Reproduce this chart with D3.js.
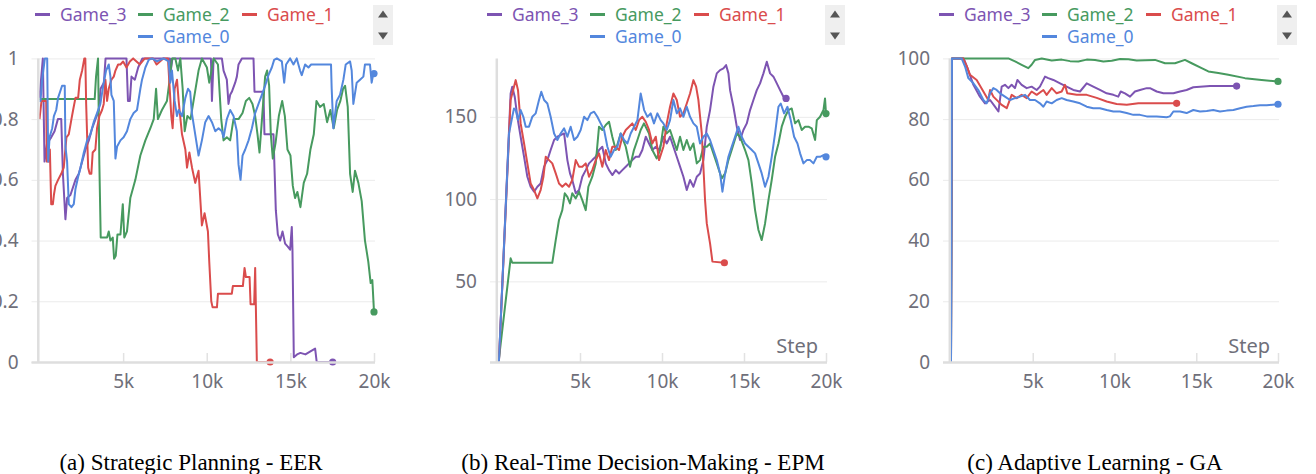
<!DOCTYPE html>
<html>
<head>
<meta charset="utf-8">
<script src="https://cdn.jsdelivr.net/npm/d3@7"></script>
<style>
  body { margin: 0; background: #fff; }
  svg { display: block; }
</style>
</head>
<body>
<svg id="chart" width="1316" height="474"></svg>
<script>
// ---- data: [step, value] ----
const games = ["Game_3", "Game_2", "Game_1", "Game_0"];
const stepTicks = [5000, 10000, 15000, 20000];

const eerTicks = [0, 0.2, 0.4, 0.6, 0.8, 1];
const epmTicks = [50, 100, 150];
const gaTicks = [0, 20, 40, 60, 80, 100];

const eerGame3 = [[0,0.87],[200,1.0],[300,0.66],[450,0.72],[700,0.74],[900,0.76],[1100,0.80],[1300,0.80],[1400,0.62],[1550,0.47],[1650,0.54],[1850,0.55],[2150,0.60],[2350,0.62],[2550,0.66],[2750,0.70],[2950,0.73],[3150,0.77],[3350,0.80],[3550,0.83],[3650,0.90],[3850,0.92],[3950,1.0],[5200,1.0],[5290,0.86],[5400,0.86],[5500,0.94],[5700,0.93],[5900,0.97],[6150,1.0],[7800,1.0],[7850,0.96],[7950,1.0],[10250,1.0],[10310,0.86],[10410,1.0],[10905,1.0],[11005,0.96],[11200,0.93],[11300,0.85],[11400,0.88],[11500,0.89],[11700,0.92],[11800,0.94],[11900,0.98],[12100,1.0],[12795,1.0],[12855,0.89],[13390,0.89],[13450,0.75],[13990,0.75],[14050,0.64],[14130,0.50],[14250,0.42],[14390,0.40],[14530,0.43],[14685,0.39],[14845,0.38],[14985,0.37],[15085,0.445],[15125,0.37],[15205,0.016],[15400,0.025],[15600,0.03],[15900,0.025],[16200,0.035],[16480,0.044],[16575,0],[17530,0]];
const eerGame2 = [[0,0.866],[3300,0.866],[3380,0.94],[3500,1.0],[3580,0.65],[3660,0.41],[4040,0.41],[4140,0.43],[4240,0.40],[4380,0.41],[4460,0.34],[4560,0.35],[4660,0.42],[4840,0.42],[4980,0.52],[5070,0.41],[5230,0.43],[5430,0.54],[5730,0.60],[6030,0.68],[6330,0.73],[6630,0.77],[6830,0.80],[6970,0.90],[7080,0.80],[7320,0.83],[7620,0.86],[7760,0.92],[7920,1.0],[8120,1.0],[8280,0.96],[8420,1.0],[8560,0.90],[8680,0.76],[8840,0.81],[9030,0.80],[9270,0.88],[9510,0.96],[9710,1.0],[10010,0.97],[10150,0.92],[10410,1.0],[10670,0.98],[10865,0.80],[11005,0.73],[11200,0.74],[11400,0.73],[11600,0.80],[11900,0.80],[12140,0.82],[12340,0.86],[12540,0.87],[12735,0.85],[12895,0.81],[13035,0.75],[13155,0.69],[13315,0.81],[13490,0.94],[13610,0.96],[13730,0.91],[13830,0.75],[13950,0.67],[14110,0.72],[14310,0.81],[14510,0.86],[14670,0.81],[14825,0.70],[15005,0.68],[15145,0.58],[15280,0.54],[15420,0.56],[15600,0.51],[15800,0.59],[16000,0.62],[16200,0.70],[16400,0.75],[16560,0.86],[16775,0.84],[16995,0.85],[17195,0.79],[17390,0.83],[17590,0.77],[17790,0.83],[17990,0.86],[18150,0.90],[18270,0.91],[18430,0.84],[18570,0.62],[18725,0.56],[18865,0.63],[19065,0.59],[19265,0.53],[19460,0.40],[19660,0.33],[19800,0.26],[19900,0.27],[20000,0.165]];
const eerGame1 = [[0,0.80],[120,0.86],[400,0.86],[440,0.66],[560,0.66],[620,0.70],[700,0.52],[800,0.52],[860,0.55],[950,0.58],[1110,0.60],[1300,0.62],[1450,0.64],[1610,0.74],[1750,0.75],[1910,0.80],[2010,0.83],[2150,0.87],[2310,0.87],[2410,0.93],[2550,0.96],[2680,1.0],[2740,1.0],[2790,0.85],[2850,0.74],[2910,0.64],[3000,0.62],[3100,0.62],[3180,0.69],[3340,0.70],[3440,0.77],[3580,0.81],[3740,0.83],[3840,0.85],[3940,0.93],[4040,0.86],[4140,0.90],[4300,0.93],[4440,0.94],[4540,0.96],[4700,0.98],[4840,0.98],[5000,0.99],[5200,0.97],[5400,0.99],[5600,1.0],[6000,0.98],[6300,1.0],[6800,1.0],[7000,0.98],[7400,1.0],[7680,1.0],[7880,0.81],[7960,0.77],[8080,0.90],[8220,0.93],[8320,0.86],[8520,0.75],[8720,0.70],[8820,0.64],[8960,0.69],[9120,0.64],[9310,0.59],[9510,0.63],[9610,0.54],[9710,0.45],[9870,0.49],[10070,0.43],[10150,0.33],[10270,0.20],[10350,0.18],[10610,0.18],[10670,0.225],[11500,0.225],[11560,0.25],[12160,0.25],[12260,0.31],[12340,0.28],[12560,0.28],[12620,0.19],[12835,0.19],[12895,0.31],[12995,0],[13790,0]];
const eerGame0 = [[0,0.86],[60,0.86],[160,0.93],[320,1.0],[460,1.0],[520,0.66],[600,0.74],[760,0.77],[860,0.81],[1000,0.83],[1110,0.87],[1350,0.91],[1510,0.91],[1550,0.71],[1650,0.66],[1750,0.52],[1910,0.51],[2050,0.52],[2150,0.57],[2310,0.61],[2450,0.64],[2650,0.69],[2850,0.73],[3040,0.75],[3240,0.79],[3440,0.82],[3640,0.85],[3840,0.92],[3980,0.96],[4140,0.98],[4240,0.94],[4300,0.88],[4440,0.86],[4540,0.67],[4640,0.71],[4840,0.73],[5030,0.74],[5230,0.76],[5430,0.80],[5630,0.82],[5830,0.83],[6030,0.90],[6130,0.93],[6330,0.97],[6530,0.995],[6730,1.0],[7020,0.99],[7420,1.0],[7720,0.99],[7820,0.92],[7920,0.96],[8080,0.86],[8220,0.81],[8320,0.83],[8520,0.81],[8720,0.87],[8880,0.90],[9010,0.89],[9110,0.82],[9310,0.75],[9510,0.68],[9710,0.73],[9910,0.79],[10110,0.81],[10310,0.79],[10510,0.76],[10705,0.77],[10905,0.76],[11005,0.74],[11200,0.80],[11400,0.83],[11600,0.81],[11800,0.76],[11900,0.65],[12020,0.60],[12140,0.68],[12300,0.70],[12500,0.73],[12700,0.77],[12895,0.82],[13095,0.85],[13295,0.88],[13490,0.91],[13690,0.945],[13890,0.97],[14030,0.995],[14190,1.0],[14490,0.99],[14630,0.92],[14745,0.98],[14985,1.0],[15185,0.98],[15380,1.0],[15580,0.96],[15680,0.945],[15880,0.98],[16080,0.97],[16240,0.98],[16480,0.98],[17430,0.98],[17470,0.90],[17570,0.77],[17770,0.86],[17970,0.88],[18170,0.93],[18310,0.98],[18570,0.99],[18665,0.96],[18765,0.85],[18965,0.92],[19165,0.93],[19365,0.94],[19460,0.98],[19760,0.98],[19860,0.92],[19960,0.95],[20000,0.95]];

const epmGame3 = [[0,1],[60,2.2],[770,164.2],[870,168.3],[1020,162.2],[1180,150],[1380,137.9],[1590,125.7],[1790,113.6],[1990,107.5],[2200,104.5],[2400,107.5],[2600,109.5],[2810,119.7],[3010,123.7],[3210,129.8],[3420,135.9],[3620,137.9],[3820,138.9],[4030,139.9],[4230,123.7],[4390,115.6],[4530,111.6],[4740,103.5],[4940,105.5],[5140,113.6],[5350,117.6],[5550,121.7],[5750,123.7],[5960,125.7],[6160,129.8],[6360,131.8],[6570,121.7],[6770,117.6],[6970,114.6],[7180,117.6],[7380,115.6],[7580,117.6],[7790,119.7],[7990,121.7],[8190,123.7],[8400,125.7],[8600,125.7],[8800,129.8],[9010,137.9],[9210,133.8],[9410,129.8],[9620,131.8],[9820,129.8],[10085,137.9],[10290,133.8],[10490,137.9],[10695,131.8],[10900,125.7],[11100,119.7],[11305,113.6],[11510,105.5],[11710,111.6],[11915,107.5],[12120,113.6],[12320,115.6],[12525,123.7],[12730,144],[12930,154.1],[13135,168.3],[13340,176.4],[13540,178.4],[13745,179.4],[13910,181.4],[14050,176.4],[14150,166.2],[14355,156.1],[14560,144],[14760,135.9],[14965,142],[15170,146],[15370,154.1],[15575,160.2],[15780,166.2],[15980,170.3],[16185,176.4],[16390,183.5],[16590,176.4],[16795,174.4],[17000,170.3],[17200,166.2],[17405,162.2],[17565,161.2]];
const epmGame2 = [[0,1],[60,3.2],[770,64],[870,61.3],[3310,61.3],[3520,75.1],[3720,87.3],[3920,93.3],[4070,103.5],[4230,101.4],[4390,97.4],[4530,103.5],[4740,100.4],[4940,104.5],[5140,99.4],[5350,93.3],[5510,107.5],[5750,113.6],[5960,121.7],[6160,144],[6360,142],[6570,145],[6770,147],[6970,137.9],[7180,129.8],[7480,139.9],[7790,131.8],[8050,119.7],[8290,129.8],[8500,135.9],[8700,142],[8900,146],[9210,139.9],[9410,129.8],[9680,124.7],[9880,129.8],[10085,144],[10290,139.9],[10490,142],[10695,135.9],[10900,129.8],[11100,137.9],[11305,129.8],[11510,135.9],[11710,129.8],[11915,133.8],[12120,121.7],[12320,123.7],[12525,131.8],[12730,131.8],[12930,133.8],[13135,127.8],[13340,121.7],[13540,115.6],[13645,112.6],[13850,115.6],[14050,123.7],[14250,129.8],[14560,139.9],[14760,137.9],[15065,129.8],[15270,123.7],[15475,109.5],[15675,93.3],[15880,81.2],[16080,75.1],[16285,85.2],[16490,99.4],[16690,111.6],[16895,125.7],[17100,133.8],[17300,144],[17505,150],[17710,154.1],[17910,155.1],[18115,146],[18320,148],[18520,142],[18725,144],[18930,144],[19130,143],[19335,135.9],[19440,148],[19640,150],[19845,154.1],[19940,161.2],[20000,152]];
const epmGame1 = [[0,1],[60,2.2],[770,160.2],[975,168.3],[1080,172.3],[1220,166.2],[1380,146],[1590,133.8],[1790,121.7],[1990,109.5],[2200,105.5],[2400,100.4],[2600,105.5],[2770,113.6],[2910,125.7],[3110,123.7],[3310,121.7],[3520,115.6],[3720,109.5],[3920,107.5],[4130,109.5],[4330,107.5],[4530,111.6],[4740,123.7],[4940,119.7],[5140,119.7],[5350,121.7],[5550,113.6],[5750,117.6],[5960,123.7],[6160,127.8],[6360,119.7],[6570,129.8],[6770,123.7],[6970,131.8],[7180,131.8],[7380,129.8],[7580,137.9],[7790,142],[7990,144],[8190,146],[8400,142],[8600,148],[8800,150],[9010,147],[9210,142],[9410,133.8],[9620,137.9],[9820,123.7],[10085,131.8],[10290,146],[10490,156.1],[10695,164.2],[10900,160.2],[11100,150],[11305,152.1],[11510,158.1],[11710,164.2],[11915,172.3],[12080,168.3],[12220,160.2],[12425,139.9],[12525,119.7],[12625,99.4],[12730,85.2],[12930,73.1],[13075,62],[13805,61.3]];
const epmGame0 = [[0,1],[60,2.2],[670,139.9],[870,150],[975,155.1],[1080,154.1],[1220,148],[1380,154.1],[1545,150],[1690,144],[1890,144],[2090,150],[2300,152.1],[2500,160.2],[2640,165.2],[2810,160.2],[3010,158.1],[3210,150],[3420,139.9],[3620,135.9],[3820,139.9],[4030,143],[4230,137.9],[4430,144],[4640,135.9],[4840,137.9],[5040,142],[5250,150],[5450,148],[5650,152.1],[5860,153.1],[6060,150],[6260,146],[6470,142],[6670,131.8],[6870,125.7],[7080,129.8],[7280,131.8],[7480,139.9],[7690,135.9],[7890,133.8],[8090,139.9],[8300,144],[8500,148],[8700,164.2],[8910,154.1],[9110,150],[9310,152.1],[9510,146],[9720,152.1],[9920,148],[10085,146],[10290,142],[10490,148],[10695,160.2],[10900,152.1],[11100,155.1],[11305,150],[11510,156.1],[11710,150],[11915,146],[12120,144],[12320,133.8],[12525,137.9],[12730,139.9],[12930,135.9],[13135,129.8],[13340,123.7],[13540,115.6],[13685,104.5],[13850,115.6],[14050,125.7],[14250,131.8],[14455,137.9],[14660,144],[14860,137.9],[15065,133.8],[15270,131.8],[15475,129.8],[15675,127.8],[15880,121.7],[16080,115.6],[16285,107.5],[16490,113.6],[16690,125.7],[16895,139.9],[17100,156.1],[17240,158.1],[17445,152.1],[17650,156.1],[17850,148],[18055,137.9],[18260,133.8],[18420,127.8],[18625,121.7],[18830,123.7],[19030,123.7],[19235,121.7],[19440,125.7],[19640,125.7],[19845,126.7],[20000,125.7]];

const gaGame3 = [[0,0],[60,100],[770,100],[975,97.3],[1370,91.3],[1770,87.4],[2080,85.2],[2390,86.3],[2690,84.1],[2900,82.5],[3100,90.7],[3300,91.3],[3510,90.2],[3710,91.3],[3910,90.2],[4060,92.9],[4320,91.3],[4630,90.2],[4930,90.7],[5240,89.6],[5440,90.7],[5750,94],[5950,93.5],[6260,92.9],[6670,91.8],[7070,90.7],[7480,89.6],[7890,89.1],[8300,91.8],[8700,90.7],[9110,89.6],[9520,88.5],[9930,88],[10230,87.4],[10380,89.1],[10640,88.5],[10950,87.4],[11250,89.1],[11560,89.6],[11970,90.2],[12170,90.2],[12580,89.1],[12990,88.5],[13600,88.5],[14010,89.1],[14410,89.6],[14820,90.5],[15230,90.7],[15840,90.9],[17470,90.9]];
const gaGame2 = [[0,0],[60,100],[3510,100],[3915,99],[4320,97.9],[4730,96.8],[4930,97.9],[5140,99.5],[5550,100],[6160,99.3],[6770,99.6],[7280,99.1],[7790,99.0],[8300,99.6],[8810,99.5],[9320,99.0],[9830,99.2],[10340,99.8],[10850,99.7],[11360,99.3],[11870,99.4],[12480,99.5],[13090,98.4],[13700,98.4],[14310,99.5],[14720,98.4],[15330,96.8],[15740,95.7],[16350,95.2],[16960,94.6],[17980,93.5],[19000,92.9],[20000,92.4]];
const gaGame1 = [[0,0],[60,100],[750,100],[975,97.3],[1160,94.6],[1570,92.9],[1980,89.1],[2280,86.3],[2390,89.6],[2590,87.4],[3100,84.7],[3410,83.6],[3710,88],[4020,86.9],[4320,88],[4630,86.9],[4930,89.1],[5240,88],[5650,89.6],[5850,88],[6160,90.2],[6460,88.5],[6770,89.1],[6970,91.3],[7110,88.5],[7690,88],[8300,88],[8910,87],[9520,85.8],[10130,85],[10750,84.7],[11460,85.2],[13800,85.2]];
const gaGame0 = [[0,0],[60,100],[650,100],[860,97.3],[1060,93.5],[1370,91.8],[1670,89.6],[1980,86.3],[2180,85.2],[2390,88.5],[2590,90.2],[2790,89.6],[3000,88.5],[3300,87.4],[3610,86.3],[3910,86.9],[4220,87.4],[4530,88],[4830,86.3],[5140,86.3],[5440,85.2],[5650,84.1],[5850,85.8],[6160,85.2],[6460,86.3],[6770,86.9],[7070,86.3],[7480,85.8],[7890,85.2],[8300,84.1],[8700,83.6],[9110,83.6],[9520,83],[9930,82.5],[10330,82.5],[10740,82],[11150,81.4],[11560,81.4],[11970,80.9],[12580,80.9],[13190,80.6],[13390,80.9],[13600,82.5],[14010,82.5],[14410,82],[14820,83],[15230,82.5],[15640,82.7],[16040,83],[16450,82.5],[16860,82.8],[17270,83],[17680,83.6],[18080,84.1],[18490,84.3],[18900,84.6],[19310,84.6],[20000,84.9]];

// ---- layout / style ----
const colors = { Game_3: "#7d54b2", Game_2: "#479a5f", Game_1: "#da4c4c", Game_0: "#5387dd" };
const tickColor = "#6f6f7a";
const sans = "'Noto Sans', sans-serif";
const plotTop = 58.4, plotBottom = 362;

const panels = [
  { left: 39.5, right: 374, domain: [0, 1], ticks: eerTicks, fmt: d => (d === 0 || d === 1) ? String(d) : d.toFixed(1),
    data: { Game_3: eerGame3, Game_2: eerGame2, Game_1: eerGame1, Game_0: eerGame0 },
    dx: 0, cx: 191, step: false, caption: "(a) Strategic Planning - EER" },
  { left: 498, right: 826, domain: [1, 185.5], ticks: epmTicks, fmt: String,
    data: { Game_3: epmGame3, Game_2: epmGame2, Game_1: epmGame1, Game_0: epmGame0 },
    dx: 452, cx: 643, step: true, caption: "(b) Real-Time Decision-Making - EPM" },
  { left: 951, right: 1278, domain: [0, 100], ticks: gaTicks, fmt: String,
    data: { Game_3: gaGame3, Game_2: gaGame2, Game_1: gaGame1, Game_0: gaGame0 },
    dx: 904, cx: 1095, step: true, caption: "(c) Adaptive Learning - GA" }
];

const svg = d3.select("#chart");

panels.forEach(p => {
  const g = svg.append("g");
  const x = d3.scaleLinear().domain([0, 20000]).range([p.left, p.right]);
  const y = d3.scaleLinear().domain(p.domain).range([plotBottom, plotTop]);

  // y grid + labels
  const ya = g.append("g")
    .attr("transform", `translate(${p.left - 8},0)`)
    .call(d3.axisLeft(y).tickValues(p.ticks).tickFormat(p.fmt)
      .tickSize(-(p.right - p.left + 9)).tickPadding(13));
  ya.select(".domain").remove();
  ya.selectAll("line").attr("stroke", "#ebebeb");
  ya.selectAll("text").attr("fill", tickColor).style("font", `19px ${sans}`);

  // x ticks + labels
  const xa = g.append("g")
    .attr("transform", `translate(0,${plotBottom})`)
    .call(d3.axisBottom(x).tickValues(stepTicks).tickFormat(d => d / 1000 + "k")
      .tickSize(-9).tickPadding(12.5));
  xa.select(".domain").remove();
  xa.selectAll("line").attr("stroke", "#e2e2e2").attr("stroke-width", 1.5);
  xa.selectAll("text").attr("fill", tickColor).style("font", `19px ${sans}`);

  if (p.step) {
    g.append("text").attr("x", p.right - 8).attr("y", 353).attr("text-anchor", "end")
      .attr("fill", tickColor).style("font", `20px ${sans}`).text("Step");
  }

  // series
  const line = d3.line().x(d => x(d[0])).y(d => y(d[1]));
  games.forEach(name => {
    const pts = p.data[name];
    g.append("path").datum(pts).attr("d", line)
      .attr("fill", "none").attr("stroke", colors[name])
      .attr("stroke-width", 2).attr("stroke-linejoin", "round");
    const last = pts[pts.length - 1];
    g.append("circle").attr("cx", x(last[0])).attr("cy", y(last[1])).attr("r", 3.6)
      .attr("fill", colors[name]);
  });

  // axis lines on top
  g.append("line").attr("x1", p.left - 8).attr("x2", p.right + 1)
    .attr("y1", plotBottom + 0.5).attr("y2", plotBottom + 0.5)
    .attr("stroke", "#dedede").attr("stroke-width", 2.5);
  g.append("line").attr("x1", p.left - 1.2).attr("x2", p.left - 1.2)
    .attr("y1", plotTop).attr("y2", plotBottom)
    .attr("stroke", "#dedede").attr("stroke-width", 2.5);

  // legend
  const lg = svg.append("g").attr("transform", `translate(${p.dx},0)`);
  const legendPos = { Game_3: [35, 14.5], Game_2: [138, 14.5], Game_1: [242, 14.5], Game_0: [138, 36.5] };
  games.forEach(name => {
    const [lx, ly] = legendPos[name];
    lg.append("line").attr("x1", lx).attr("x2", lx + 15).attr("y1", ly).attr("y2", ly)
      .attr("stroke", colors[name]).attr("stroke-width", 3);
    lg.append("text").attr("x", lx + 25).attr("y", ly + 6.5).attr("fill", colors[name])
      .style("font", `17.5px ${sans}`).text(name);
  });
  lg.append("rect").attr("x", 373).attr("y", 5).attr("width", 20).attr("height", 40).attr("fill", "#efefef");
  lg.append("path").attr("d", "M378,17.5L388,17.5L383,10.5Z").attr("fill", "#555");
  lg.append("path").attr("d", "M378,32.5L388,32.5L383,39.5Z").attr("fill", "#555");

  // caption
  svg.append("text").attr("x", p.cx).attr("y", 470).attr("text-anchor", "middle")
    .attr("fill", "#000").style("font", "23px 'Liberation Serif', 'Times New Roman', serif")
    .text(p.caption);
});
</script>
</body>
</html>
